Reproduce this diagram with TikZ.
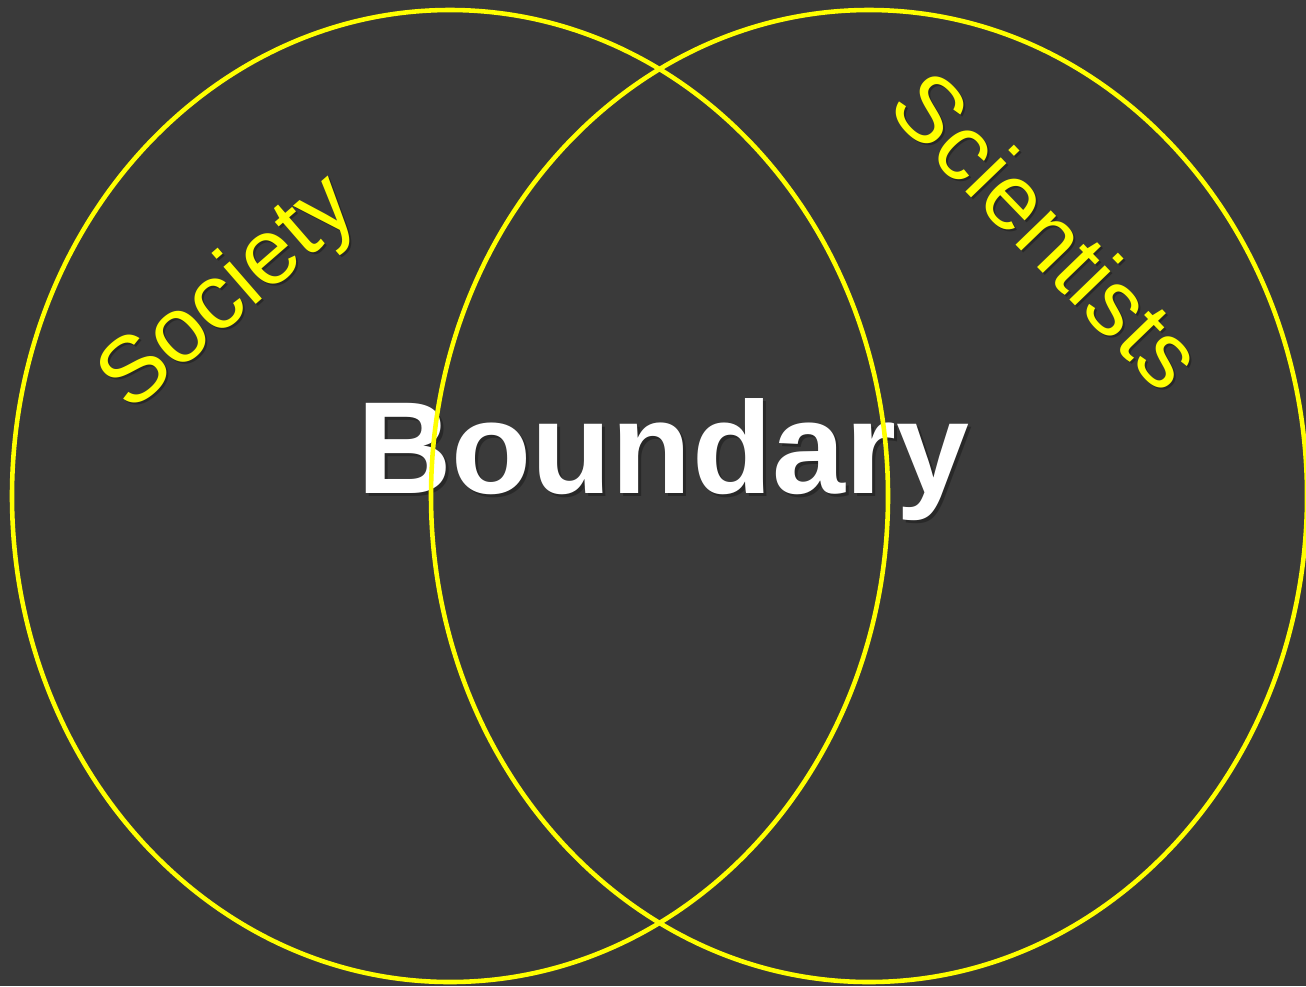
\documentclass[tikz,border=0pt]{standalone}
\usepackage{fontspec}
\setmainfont{Liberation Sans}
\usetikzlibrary{positioning}
\definecolor{slide}{HTML}{3A3A3A}
\definecolor{ringyellow}{HTML}{FFFF00}

\begin{document}
\begin{tikzpicture}[
    ring/.style={draw=ringyellow, line width=1.3pt},
    setname/.style={text=ringyellow, font=\fontsize{26.5}{30}\selectfont},
    bigword/.style={text=white, font=\fontsize{37.3}{44}\selectfont\bfseries},
    shade/.style={text=black, opacity=0.3}
]
  % background of the slide
  \fill[slide] (0,0) rectangle (13.06,9.86);
  \useasboundingbox (0,0) rectangle (13.06,9.86);

  \coordinate (soc) at (4.50,4.90);
  \coordinate (sci) at (8.69,4.90);

  % word in the overlap, with its shadow
  \node[bigword, shade, anchor=base] (boundshadow) at (6.66,4.90) {Boundary};
  \node[bigword, anchor=base] (bound) at (6.63,4.93) {Boundary};

  % the two sets
  \draw[ring] (soc) ellipse [x radius=4.38, y radius=4.86];
  \draw[ring] (sci) ellipse [x radius=4.38, y radius=4.86];

  % set names, with a faint shadow
  \node[setname, shade, rotate=41] (socshadow) at (2.32,6.89) {Society};
  \node[setname, rotate=41] (society) at (2.30,6.91) {Society};
  \node[setname, shade, rotate=-46] (scishadow) at (10.50,7.54) {Scientists};
  \node[setname, rotate=-46] (scientists) at (10.48,7.56) {Scientists};
\end{tikzpicture}
\end{document}
